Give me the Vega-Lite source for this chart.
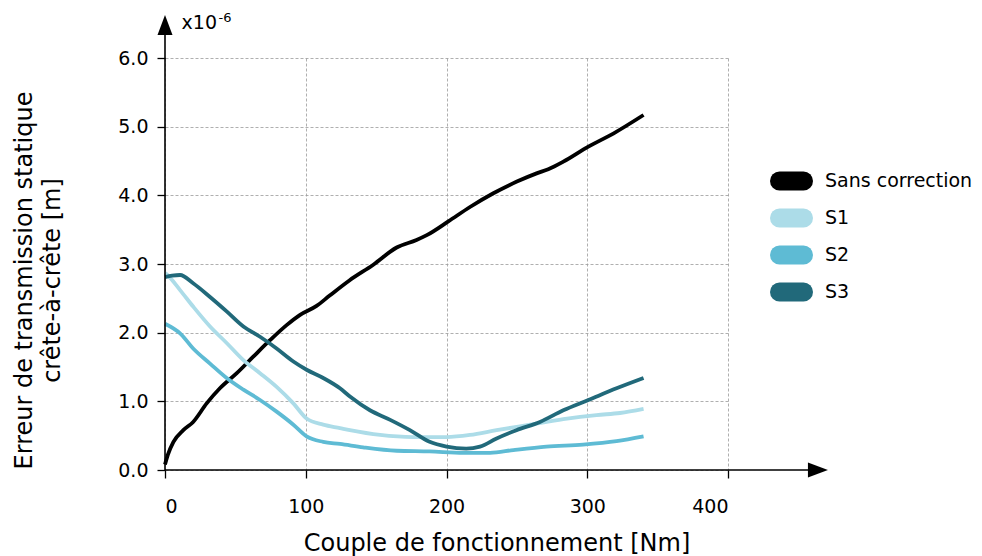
{
  "$schema": "https://vega.github.io/schema/vega-lite/v6.json",
  "autosize": "none",
  "width": 563,
  "height": 412,
  "padding": {"left": 165, "top": 58, "right": 254, "bottom": 86},
  "background": "white",
  "config": {
    "view": {"stroke": null},
    "font": "DejaVu Sans",
    "axis": {
      "domain": false,
      "tickColor": "black",
      "tickWidth": 1.3,
      "tickSize": 8,
      "labelFont": "DejaVu Sans",
      "labelFontSize": 19,
      "labelColor": "black",
      "titleFont": "DejaVu Sans",
      "titleFontSize": 24,
      "titleFontWeight": "normal",
      "titleColor": "black",
      "grid": true,
      "gridColor": "#9a9a9a",
      "gridDash": [3, 2],
      "gridWidth": 0.8
    },
    "legend": {
      "labelFont": "DejaVu Sans",
      "labelFontSize": 19,
      "labelColor": "black",
      "symbolType": "stroke",
      "symbolSize": 576,
      "symbolStrokeWidth": 19,
      "symbolOpacity": 1
    }
  },
  "datasets": {
    "curves": [
      {"x": 0, "y": 0.08, "s": "Sans correction"},
      {"x": 2, "y": 0.22, "s": "Sans correction"},
      {"x": 6, "y": 0.41, "s": "Sans correction"},
      {"x": 13, "y": 0.58, "s": "Sans correction"},
      {"x": 20, "y": 0.70, "s": "Sans correction"},
      {"x": 29.6, "y": 0.97, "s": "Sans correction"},
      {"x": 39, "y": 1.19, "s": "Sans correction"},
      {"x": 51, "y": 1.41, "s": "Sans correction"},
      {"x": 62.7, "y": 1.65, "s": "Sans correction"},
      {"x": 74.6, "y": 1.89, "s": "Sans correction"},
      {"x": 86.4, "y": 2.11, "s": "Sans correction"},
      {"x": 96, "y": 2.26, "s": "Sans correction"},
      {"x": 107.7, "y": 2.39, "s": "Sans correction"},
      {"x": 117, "y": 2.54, "s": "Sans correction"},
      {"x": 131, "y": 2.76, "s": "Sans correction"},
      {"x": 148, "y": 2.99, "s": "Sans correction"},
      {"x": 164.6, "y": 3.24, "s": "Sans correction"},
      {"x": 178.7, "y": 3.35, "s": "Sans correction"},
      {"x": 186, "y": 3.42, "s": "Sans correction"},
      {"x": 201.3, "y": 3.62, "s": "Sans correction"},
      {"x": 216.7, "y": 3.83, "s": "Sans correction"},
      {"x": 233.3, "y": 4.03, "s": "Sans correction"},
      {"x": 250, "y": 4.20, "s": "Sans correction"},
      {"x": 264, "y": 4.32, "s": "Sans correction"},
      {"x": 272.3, "y": 4.38, "s": "Sans correction"},
      {"x": 283, "y": 4.49, "s": "Sans correction"},
      {"x": 300.8, "y": 4.71, "s": "Sans correction"},
      {"x": 318.5, "y": 4.90, "s": "Sans correction"},
      {"x": 340, "y": 5.17, "s": "Sans correction"},
      {"x": 0, "y": 2.87, "s": "S1"},
      {"x": 1.2, "y": 2.85, "s": "S1"},
      {"x": 10.7, "y": 2.62, "s": "S1"},
      {"x": 20, "y": 2.38, "s": "S1"},
      {"x": 32, "y": 2.09, "s": "S1"},
      {"x": 43.8, "y": 1.85, "s": "S1"},
      {"x": 55.7, "y": 1.60, "s": "S1"},
      {"x": 67.5, "y": 1.41, "s": "S1"},
      {"x": 79.3, "y": 1.21, "s": "S1"},
      {"x": 91.2, "y": 0.97, "s": "S1"},
      {"x": 100.6, "y": 0.75, "s": "S1"},
      {"x": 112.4, "y": 0.66, "s": "S1"},
      {"x": 124.3, "y": 0.61, "s": "S1"},
      {"x": 131.4, "y": 0.58, "s": "S1"},
      {"x": 152.8, "y": 0.51, "s": "S1"},
      {"x": 176.4, "y": 0.48, "s": "S1"},
      {"x": 200, "y": 0.48, "s": "S1"},
      {"x": 216.7, "y": 0.51, "s": "S1"},
      {"x": 235.6, "y": 0.58, "s": "S1"},
      {"x": 259.3, "y": 0.66, "s": "S1"},
      {"x": 283, "y": 0.74, "s": "S1"},
      {"x": 306.6, "y": 0.80, "s": "S1"},
      {"x": 323.3, "y": 0.83, "s": "S1"},
      {"x": 340, "y": 0.89, "s": "S1"},
      {"x": 0, "y": 2.13, "s": "S2"},
      {"x": 10.7, "y": 1.99, "s": "S2"},
      {"x": 20, "y": 1.77, "s": "S2"},
      {"x": 32, "y": 1.55, "s": "S2"},
      {"x": 43.8, "y": 1.34, "s": "S2"},
      {"x": 55.7, "y": 1.17, "s": "S2"},
      {"x": 67.5, "y": 1.02, "s": "S2"},
      {"x": 79.3, "y": 0.85, "s": "S2"},
      {"x": 91.2, "y": 0.66, "s": "S2"},
      {"x": 100.6, "y": 0.49, "s": "S2"},
      {"x": 112.4, "y": 0.41, "s": "S2"},
      {"x": 124.3, "y": 0.38, "s": "S2"},
      {"x": 140.8, "y": 0.33, "s": "S2"},
      {"x": 164.6, "y": 0.28, "s": "S2"},
      {"x": 188, "y": 0.27, "s": "S2"},
      {"x": 212, "y": 0.25, "s": "S2"},
      {"x": 231, "y": 0.25, "s": "S2"},
      {"x": 247.5, "y": 0.29, "s": "S2"},
      {"x": 271, "y": 0.34, "s": "S2"},
      {"x": 297, "y": 0.37, "s": "S2"},
      {"x": 320.8, "y": 0.42, "s": "S2"},
      {"x": 340, "y": 0.49, "s": "S2"},
      {"x": 0, "y": 2.81, "s": "S3"},
      {"x": 5, "y": 2.83, "s": "S3"},
      {"x": 10.7, "y": 2.84, "s": "S3"},
      {"x": 20, "y": 2.72, "s": "S3"},
      {"x": 32, "y": 2.52, "s": "S3"},
      {"x": 43.8, "y": 2.31, "s": "S3"},
      {"x": 55.7, "y": 2.09, "s": "S3"},
      {"x": 67.5, "y": 1.94, "s": "S3"},
      {"x": 79.3, "y": 1.77, "s": "S3"},
      {"x": 91.2, "y": 1.58, "s": "S3"},
      {"x": 100.6, "y": 1.46, "s": "S3"},
      {"x": 112.4, "y": 1.34, "s": "S3"},
      {"x": 124.3, "y": 1.19, "s": "S3"},
      {"x": 131.4, "y": 1.07, "s": "S3"},
      {"x": 145.6, "y": 0.87, "s": "S3"},
      {"x": 160, "y": 0.73, "s": "S3"},
      {"x": 174, "y": 0.58, "s": "S3"},
      {"x": 188, "y": 0.41, "s": "S3"},
      {"x": 200, "y": 0.34, "s": "S3"},
      {"x": 214, "y": 0.31, "s": "S3"},
      {"x": 223.8, "y": 0.34, "s": "S3"},
      {"x": 235.6, "y": 0.46, "s": "S3"},
      {"x": 249.7, "y": 0.58, "s": "S3"},
      {"x": 266.4, "y": 0.70, "s": "S3"},
      {"x": 283, "y": 0.87, "s": "S3"},
      {"x": 300.8, "y": 1.02, "s": "S3"},
      {"x": 320.8, "y": 1.19, "s": "S3"},
      {"x": 340, "y": 1.34, "s": "S3"}
    ],
    "axislines": [
      {"x": 0, "x2": 460, "y": 0, "y2": 0},
      {"x": 0, "x2": 0, "y": 0, "y2": 6.5}
    ],
    "xarrow": [{"x": 471, "y": 0}],
    "yarrow": [{"x": 0, "y": 6.626}],
    "note": [{"x": 11.8, "y": 6.418, "t": "x10"}],
    "noteexp": [{"x": 38.0, "y": 6.52, "t": "-6"}]
  },
  "layer": [
    {
      "data": {"name": "curves"},
      "mark": {"type": "line", "interpolate": "monotone", "strokeWidth": 3.8, "strokeCap": "butt"},
      "encoding": {
        "x": {
          "field": "x", "type": "quantitative",
          "scale": {"domain": [0, 400], "nice": false},
          "axis": {
            "values": [0, 100, 200, 300, 400],
            "format": "d",
            "labelPadding": 19,
            "title": "Couple de fonctionnement [Nm]",
            "titleX": 331.5,
            "titleY": 80,
            "titleAlign": "center",
            "titleBaseline": "alphabetic"
          }
        },
        "y": {
          "field": "y", "type": "quantitative",
          "scale": {"domain": [0, 6], "nice": false},
          "axis": {
            "values": [0, 1, 2, 3, 4, 5, 6],
            "format": ".1f",
            "labelPadding": 9,
            "title": ["Erreur de transmission statique", "crête-à-crête [m]"],
            "titleLineHeight": 28,
            "titleX": -141,
            "titleY": 222,
            "titleAngle": -90,
            "titleAlign": "center",
            "titleBaseline": "middle"
          }
        },
        "color": {
          "field": "s", "type": "nominal",
          "scale": {
            "domain": ["Sans correction", "S1", "S2", "S3"],
            "range": ["#000000", "#acdce8", "#5ebbd4", "#21697a"]
          },
          "legend": {
            "title": null,
            "orient": "none",
            "legendX": 605,
            "legendY": 111,
            "padding": 0,
            "clipHeight": 24,
            "rowPadding": 13,
            "labelOffset": 12,
            "symbolType": "stroke",
            "symbolSize": 576,
            "symbolStrokeWidth": 19,
            "encode": {"symbols": {"update": {"strokeCap": {"value": "round"}}}}
          }
        }
      }
    },
    {
      "data": {"name": "axislines"},
      "mark": {"type": "rule", "color": "black", "strokeWidth": 1.6},
      "encoding": {
        "x": {"field": "x", "type": "quantitative", "scale": {"domain": [0, 400], "nice": false}},
        "x2": {"field": "x2"},
        "y": {"field": "y", "type": "quantitative", "scale": {"domain": [0, 6], "nice": false}},
        "y2": {"field": "y2"}
      }
    },
    {
      "data": {"name": "xarrow"},
      "mark": {"type": "point", "filled": true, "color": "black", "opacity": 1, "size": 400, "shape": "M0,0L-2,-0.75L-2,0.75Z"},
      "encoding": {
        "x": {"field": "x", "type": "quantitative", "scale": {"domain": [0, 400], "nice": false}},
        "y": {"field": "y", "type": "quantitative", "scale": {"domain": [0, 6], "nice": false}}
      }
    },
    {
      "data": {"name": "yarrow"},
      "mark": {"type": "point", "filled": true, "color": "black", "opacity": 1, "size": 400, "shape": "M0,0L-0.75,2L0.75,2Z"},
      "encoding": {
        "x": {"field": "x", "type": "quantitative", "scale": {"domain": [0, 400], "nice": false}},
        "y": {"field": "y", "type": "quantitative", "scale": {"domain": [0, 6], "nice": false}}
      }
    },
    {
      "data": {"name": "note"},
      "mark": {"type": "text", "align": "left", "baseline": "alphabetic", "fontSize": 19, "font": "DejaVu Sans", "color": "black"},
      "encoding": {
        "x": {"field": "x", "type": "quantitative", "scale": {"domain": [0, 400], "nice": false}},
        "y": {"field": "y", "type": "quantitative", "scale": {"domain": [0, 6], "nice": false}},
        "text": {"field": "t"}
      }
    },
    {
      "data": {"name": "noteexp"},
      "mark": {"type": "text", "align": "left", "baseline": "alphabetic", "fontSize": 13, "font": "DejaVu Sans", "color": "black"},
      "encoding": {
        "x": {"field": "x", "type": "quantitative", "scale": {"domain": [0, 400], "nice": false}},
        "y": {"field": "y", "type": "quantitative", "scale": {"domain": [0, 6], "nice": false}},
        "text": {"field": "t"}
      }
    }
  ]
}
